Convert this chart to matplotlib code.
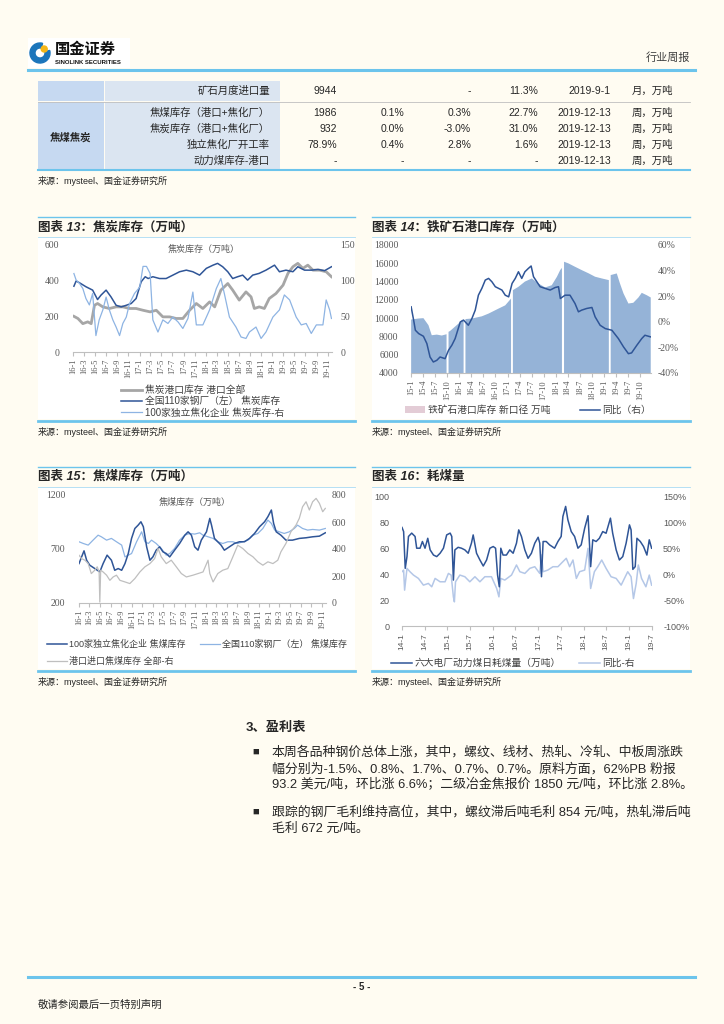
import numpy as np
import pandas as pd
import matplotlib
matplotlib.use('Agg')
import matplotlib.pyplot as plt
from matplotlib.lines import Line2D
from matplotlib.patches import Rectangle, Patch, Wedge, Circle
from matplotlib.ticker import FuncFormatter

SANS = ['Liberation Sans', 'Noto Sans CJK SC']
SERIF = ['Liberation Serif', 'Noto Sans CJK SC']
plt.rcParams['font.family'] = SANS
plt.rcParams['axes.unicode_minus'] = False

# ---------------- table ----------------
table_rows = [
    ['矿石月度进口量', '9944', '', '-', '11.3%', '2019-9-1', '月，万吨'],
    ['焦煤库存（港口+焦化厂）', '1986', '0.1%', '0.3%', '22.7%', '2019-12-13', '周，万吨'],
    ['焦炭库存（港口+焦化厂）', '932', '0.0%', '-3.0%', '31.0%', '2019-12-13', '周，万吨'],
    ['独立焦化厂开工率', '78.9%', '0.4%', '2.8%', '1.6%', '2019-12-13', '周，万吨'],
    ['动力煤库存-港口', '-', '-', '-', '-', '2019-12-13', '周，万吨'],
]
table_group = '焦煤焦炭'

# ---------------- 图表13 焦炭库存 ----------------
ticks13 = ['16-1', '16-3', '16-5', '16-7', '16-9', '16-11', '17-1', '17-3', '17-5', '17-7', '17-9', '17-11',
           '18-1', '18-3', '18-5', '18-7', '18-9', '18-11', '19-1', '19-3', '19-5', '19-7', '19-9', '19-11']
mill_coke_dates = ['2016-01-06', '2016-01-18', '2016-02-06', '2016-03-12', '2016-04-18', '2016-05-15', '2016-06-03',
                   '2016-07-01', '2016-07-28', '2016-08-25', '2016-09-22', '2016-10-20', '2016-11-16', '2016-12-13',
                   '2017-01-10', '2017-02-01', '2017-02-17', '2017-03-15', '2017-04-21', '2017-05-27', '2017-07-03',
                   '2017-08-09', '2017-09-15', '2017-10-21', '2017-11-27', '2018-01-03', '2018-02-09', '2018-03-06',
                   '2018-04-03', '2018-05-01', '2018-05-28', '2018-06-24', '2018-07-22', '2018-08-18', '2018-09-15',
                   '2018-10-21', '2018-11-27', '2019-01-13', '2019-02-09', '2019-03-17', '2019-04-24', '2019-05-21',
                   '2019-06-27', '2019-08-03', '2019-09-09', '2019-10-15', '2019-11-22']
mill_coke = [369, 398, 388, 366, 347, 294, 319, 347, 309, 262, 253, 262, 272, 300, 394, 422, 412, 422, 412, 412,
             431, 450, 459, 450, 431, 469, 487, 497, 478, 450, 412, 422, 431, 403, 431, 441, 459, 487, 450, 459,
             450, 478, 459, 459, 463, 456, 478]
port_coke_dates = ['2016-01-06', '2016-01-28', '2016-02-24', '2016-03-22', '2016-04-10', '2016-04-28', '2016-05-15',
                   '2016-06-13', '2016-07-19', '2016-08-25', '2016-10-01', '2016-11-07', '2016-12-13', '2017-01-20',
                   '2017-02-28', '2017-04-03', '2017-05-09', '2017-06-15', '2017-07-21', '2017-08-27', '2017-10-03',
                   '2017-11-09', '2017-12-15', '2018-01-21', '2018-02-18', '2018-03-24', '2018-05-01', '2018-05-28',
                   '2018-07-03', '2018-08-09', '2018-09-06', '2018-09-24', '2018-10-21', '2018-11-18', '2018-12-15',
                   '2019-01-21', '2019-03-01', '2019-03-28', '2019-04-24', '2019-05-21', '2019-06-18', '2019-07-15',
                   '2019-08-12', '2019-09-18', '2019-10-24', '2019-11-22']
port_coke = [200, 188, 159, 169, 159, 262, 272, 253, 244, 253, 253, 244, 244, 234, 225, 234, 197, 197, 188, 188,
             234, 272, 244, 281, 253, 347, 384, 347, 291, 337, 309, 244, 253, 244, 300, 328, 375, 441, 478, 497,
             469, 487, 459, 459, 450, 422]
plant_coke_dates = ['2016-01-06', '2016-01-18', '2016-02-06', '2016-02-24', '2016-03-12', '2016-03-31', '2016-04-18',
                    '2016-05-06', '2016-05-24', '2016-06-13', '2016-07-01', '2016-07-19', '2016-08-07', '2016-08-25',
                    '2016-09-13', '2016-10-01', '2016-10-20', '2016-11-07', '2016-12-04', '2017-01-02', '2017-01-20',
                    '2017-02-08', '2017-02-28', '2017-03-15', '2017-04-12', '2017-05-09', '2017-06-06', '2017-07-03',
                    '2017-08-01', '2017-08-27', '2017-09-24', '2017-10-21', '2017-11-09', '2017-12-15', '2018-01-21',
                    '2018-02-27', '2018-03-24', '2018-04-12', '2018-05-10', '2018-06-15', '2018-07-13', '2018-08-09',
                    '2018-08-28', '2018-10-03', '2018-10-31', '2018-11-27', '2019-01-04', '2019-02-09', '2019-03-08',
                    '2019-04-06', '2019-05-12', '2019-06-09', '2019-07-06', '2019-08-03', '2019-08-31', '2019-10-06',
                    '2019-10-24', '2019-11-12', '2019-11-22']
plant_coke = [110, 101, 96, 89, 75, 66, 82, 23, 45, 59, 77, 59, 45, 35, 23, 40, 49, 68, 82, 91, 120, 120, 110,
              45, 28, 45, 40, 49, 42, 33, 47, 84, 38, 38, 59, 89, 103, 82, 49, 35, 21, 19, 28, 35, 19, 28, 49,
              59, 80, 73, 49, 38, 40, 26, 38, 38, 73, 59, 47]

# ---------------- 图表14 铁矿石港口库存 ----------------
ticks14 = ['15-1', '15-4', '15-7', '15-10', '16-1', '16-4', '16-7', '16-10', '17-1', '17-4', '17-7', '17-10',
           '18-1', '18-4', '18-7', '18-10', '19-1', '19-4', '19-7', '19-10']
ore_dates = ['2015-01-02', '2015-02-27', '2015-04-05', '2015-05-13', '2015-06-07', '2015-07-15', '2015-08-22',
             '2015-09-27', '2015-10-04', '2015-10-12', '2015-10-24', '2015-12-26', '2016-01-20', '2016-02-03',
             '2016-02-10', '2016-02-17', '2016-04-06', '2016-06-20', '2016-08-10', '2016-10-25', '2016-12-14',
             '2017-01-21', '2017-01-27', '2017-02-03', '2017-02-10', '2017-03-24', '2017-05-12', '2017-07-03',
             '2017-08-21', '2017-10-12', '2017-12-01', '2018-01-09', '2018-02-03', '2018-02-16', '2018-02-24',
             '2018-03-04', '2018-04-06', '2018-05-26', '2018-07-15', '2018-09-06', '2018-10-25', '2018-12-15',
             '2019-02-06', '2019-02-13', '2019-02-20', '2019-04-07', '2019-05-01', '2019-05-28', '2019-07-04',
             '2019-08-10', '2019-09-18', '2019-10-13', '2019-11-21', '2019-12-20']
ore_stock = [9850, 9960, 10000, 9230, 8130, 8200, 8100, 8240, np.nan, 8500, 8600, 9400, 9800, 9850, np.nan, 9900,
             9960, 10200, 10500, 11050, 11400, 12040, 12150, np.nan, 13060, 13430, 14000, 14340, 13800, 13360,
             13600, 14520, 15260, 15500, np.nan, 16170, 15990, 15620, 15260, 14900, 14530, 14340, 14160, np.nan,
             14710, 14890, 13800, 12700, 11600, 11680, 12260, 12770, 12500, 12260]
ore_yoy_dates = ['2015-01-02', '2015-01-21', '2015-02-03', '2015-02-28', '2015-04-05', '2015-05-01', '2015-05-25',
                 '2015-06-19', '2015-07-15', '2015-08-09', '2015-09-16', '2015-10-12', '2015-11-06', '2015-12-01',
                 '2016-01-09', '2016-02-03', '2016-03-10', '2016-04-06', '2016-05-01', '2016-05-25', '2016-06-20',
                 '2016-07-16', '2016-08-10', '2016-09-04', '2016-09-30', '2016-10-25', '2016-11-19', '2016-12-14',
                 '2017-01-09', '2017-02-04', '2017-02-28', '2017-03-24', '2017-04-18', '2017-05-12', '2017-06-07',
                 '2017-06-28', '2017-07-16', '2017-08-10', '2017-09-04', '2017-10-12', '2017-11-19', '2017-12-27',
                 '2018-01-21', '2018-02-04', '2018-03-12', '2018-04-18', '2018-05-26', '2018-06-21', '2018-07-15',
                 '2018-08-22', '2018-10-01', '2018-10-25', '2018-12-02', '2019-01-10', '2019-03-01', '2019-04-19',
                 '2019-05-28', '2019-07-04', '2019-07-28', '2019-09-06', '2019-10-13', '2019-11-06', '2019-12-03',
                 '2019-12-20']
ore_yoy = [11.7, 1.3, -6.6, -9.2, -11.3, -17.0, -27.5, -31.4, -30.1, -27.5, -28.8, -22.2, -18.3, -13.1,
           -0.1, 1.3, -2.7, 2.6, 9.1, 20.8, 26.1, 32.6, 33.9, 31.3, 27.4, 26.1, 24.8, 20.8,
           19.5, 30.0, 33.9, 39.1, 33.9, 39.1, 41.7, 43.6, 35.2, 31.3, 27.4, 26.1, 24.8, 26.8,
           27.4, 18.2, 20.8, 20.8, 14.3, 7.8, 9.1, 10.4, 11.2, 3.9, -2.7,
           -5.3, -6.6, -13.1, -19.6, -24.9, -24.3, -18.3, -13.1, -10.5, -11.3, -11.8]

# ---------------- 图表15 焦煤库存 ----------------
ticks15 = ticks13
plant_coal_dates = ['2016-01-01', '2016-01-16', '2016-01-30', '2016-02-14', '2016-03-03', '2016-04-01', '2016-04-30',
                    '2016-05-19', '2016-06-11', '2016-07-06', '2016-07-25', '2016-08-14', '2016-09-03', '2016-09-22',
                    '2016-10-11', '2016-10-30', '2016-11-18', '2016-12-07', '2016-12-23', '2017-01-06', '2017-01-25',
                    '2017-02-13', '2017-03-02', '2017-03-21', '2017-04-10', '2017-04-29', '2017-05-18', '2017-06-07',
                    '2017-07-05', '2017-08-03', '2017-09-02', '2017-09-21', '2017-10-10', '2017-10-29', '2017-11-17',
                    '2017-12-06', '2018-01-05', '2018-01-24', '2018-02-03', '2018-02-20', '2018-03-11', '2018-03-30',
                    '2018-04-18', '2018-05-17', '2018-06-15', '2018-07-14', '2018-08-12', '2018-09-10', '2018-10-09',
                    '2018-11-07', '2018-12-06', '2018-12-25', '2019-01-14', '2019-01-27', '2019-02-11', '2019-03-10',
                    '2019-04-08', '2019-05-16', '2019-06-24', '2019-08-02', '2019-09-09', '2019-10-18', '2019-11-21']
plant_coal = [565, 627, 683, 596, 550, 519, 488, 565, 643, 596, 503, 519, 503, 565, 658, 798, 890, 921, 952,
              906, 720, 596, 627, 689, 720, 674, 658, 627, 689, 751, 828, 859, 828, 720, 689, 782,
              859, 983, 921, 798, 767, 736, 689, 720, 751, 767, 767, 798, 844, 906, 952, 999,
              1061, 937, 859, 828, 782, 782, 798, 804, 813, 819, 850]
mill_coal_dates = ['2016-01-01', '2016-01-26', '2016-02-23', '2016-03-22', '2016-04-20', '2016-05-09', '2016-06-08',
                   '2016-07-06', '2016-08-04', '2016-09-03', '2016-09-22', '2016-10-11', '2016-10-30', '2016-11-28',
                   '2016-12-27', '2017-01-15', '2017-02-04', '2017-02-22', '2017-03-21', '2017-04-19', '2017-05-18',
                   '2017-06-07', '2017-07-05', '2017-08-03', '2017-09-02', '2017-09-30', '2017-10-29', '2017-11-27',
                   '2017-12-16', '2018-01-14', '2018-02-12', '2018-03-11', '2018-04-09', '2018-05-08', '2018-06-06',
                   '2018-07-04', '2018-08-02', '2018-09-01', '2018-09-30', '2018-10-28', '2018-11-26', '2018-12-25',
                   '2019-01-14', '2019-02-02', '2019-03-01', '2019-03-29', '2019-04-27', '2019-05-26', '2019-06-14',
                   '2019-07-13', '2019-08-11', '2019-09-09', '2019-10-18', '2019-11-21']
mill_coal = [767, 751, 736, 782, 828, 813, 782, 798, 767, 736, 627, 643, 658, 767, 859, 767, 751, 782, 751, 705,
             643, 658, 705, 782, 828, 844, 838, 850, 828, 813, 798, 767, 751, 767, 767, 751, 767, 782, 828,
             844, 890, 968, 937, 875, 859, 844, 859, 890, 921, 890, 875, 881, 875, 890]
port_coal_dates = ['2016-01-01', '2016-01-16', '2016-02-04', '2016-02-23', '2016-03-12', '2016-04-01', '2016-04-15',
                   '2016-04-26', '2016-04-30', '2016-05-05', '2016-05-19', '2016-06-08', '2016-06-27', '2016-07-16',
                   '2016-08-04', '2016-08-24', '2016-09-22', '2016-10-20', '2016-11-18', '2016-12-17', '2017-01-15',
                   '2017-02-13', '2017-03-12', '2017-04-01', '2017-04-19', '2017-05-18', '2017-06-16', '2017-07-15',
                   '2017-08-13', '2017-09-11', '2017-10-19', '2017-11-17', '2017-12-16', '2018-01-14', '2018-01-24',
                   '2018-02-12', '2018-03-11', '2018-04-09', '2018-05-08', '2018-06-06', '2018-07-04', '2018-08-02',
                   '2018-09-01', '2018-09-30', '2018-10-28', '2018-11-26', '2018-12-25', '2019-01-23', '2019-02-20',
                   '2019-03-10', '2019-04-08', '2019-05-07', '2019-06-05', '2019-06-24', '2019-07-13', '2019-08-02',
                   '2019-08-21', '2019-09-09', '2019-09-29', '2019-10-18', '2019-11-06', '2019-11-21']
port_coal = [354, 329, 317, 292, 218, 243, 268, 230, 7, 243, 230, 206, 168, 193, 206, 168, 156, 144, 181, 230,
             268, 292, 329, 404, 342, 292, 317, 268, 218, 193, 206, 218, 230, 317, 218, 156, 218, 243, 255,
             342, 428, 404, 367, 342, 305, 280, 305, 292, 317, 379, 441, 528, 577, 627, 713, 750, 689, 750,
             775, 738, 676, 701]

# ---------------- 图表16 耗煤量 ----------------
ticks16 = ['14-1', '14-7', '15-1', '15-7', '16-1', '16-7', '17-1', '17-7', '18-1', '18-7', '19-1', '19-7']
burn_dates = ['2014-01-01', '2014-01-14', '2014-01-27', '2014-02-10', '2014-02-22', '2014-03-20', '2014-04-16',
              '2014-04-29', '2014-05-26', '2014-06-14', '2014-07-05', '2014-07-27', '2014-08-15', '2014-09-11',
              '2014-10-07', '2014-11-03', '2014-11-30', '2014-12-26', '2015-01-23', '2015-02-05', '2015-02-18',
              '2015-03-02', '2015-03-28', '2015-04-24', '2015-05-21', '2015-06-17', '2015-07-13', '2015-07-27',
              '2015-08-23', '2015-09-19', '2015-10-16', '2015-11-12', '2015-12-08', '2016-01-04', '2016-01-23',
              '2016-02-08', '2016-02-22', '2016-03-05', '2016-03-23', '2016-04-19', '2016-05-16', '2016-06-12',
              '2016-07-09', '2016-07-27', '2016-08-18', '2016-09-14', '2016-10-10', '2016-11-06', '2016-12-03',
              '2016-12-30', '2017-01-12', '2017-01-26', '2017-02-08', '2017-03-05', '2017-04-01', '2017-05-11',
              '2017-06-07', '2017-07-03', '2017-07-17', '2017-08-08', '2017-08-26', '2017-09-22', '2017-10-19',
              '2017-11-15', '2017-12-11', '2018-01-08', '2018-02-04', '2018-02-25', '2018-03-14', '2018-04-10',
              '2018-05-06', '2018-06-02', '2018-06-29', '2018-08-03', '2018-08-21', '2018-09-18', '2018-10-14',
              '2018-11-10', '2018-12-07', '2019-01-03', '2019-01-16', '2019-01-30', '2019-02-18', '2019-03-04',
              '2019-03-31', '2019-04-26', '2019-05-23', '2019-06-11', '2019-06-30']
burn = [76.4, 73.2, 44.7, 53.8, 69.4, 72.0, 69.4, 60.3, 60.3, 65.5, 60.3, 68.0, 59.0, 55.0, 53.8, 56.4, 60.3,
        70.6, 72.0, 69.4, 35.6, 59.0, 61.0, 60.3, 59.0, 56.4, 64.2, 70.6, 56.4, 51.2, 46.5, 51.2, 60.3,
        61.6, 60.3, 39.5, 30.4, 60.3, 55.0, 55.0, 59.0, 56.4, 64.2, 74.5, 69.4, 59.0, 52.5, 56.4, 64.2, 68.8,
        64.2, 38.2, 65.5, 65.5, 62.9, 60.3, 65.5, 69.4, 84.9, 92.7, 82.3, 73.2, 69.4, 60.3, 62.9,
        75.8, 85.5, 46.0, 66.8, 65.5, 68.0, 73.2, 71.9, 83.6, 71.9, 59.0, 51.2, 53.8, 64.2,
        78.4, 74.5, 43.9, 46.0, 68.0, 65.5, 61.6, 55.0, 66.8, 60.3]
burn_yoy_dates = ['2014-01-01', '2014-01-14', '2014-01-22', '2014-02-10', '2014-03-06', '2014-04-03', '2014-05-13',
                  '2014-06-22', '2014-08-01', '2014-08-28', '2014-09-24', '2014-11-03', '2014-12-13', '2015-01-09',
                  '2015-01-31', '2015-02-18', '2015-02-26', '2015-03-07', '2015-04-11', '2015-05-21', '2015-06-30',
                  '2015-08-10', '2015-09-19', '2015-10-29', '2015-12-21', '2016-02-01', '2016-02-19', '2016-03-05',
                  '2016-04-06', '2016-05-30', '2016-07-09', '2016-08-05', '2016-09-14', '2016-10-24', '2016-12-03',
                  '2017-01-12', '2017-01-26', '2017-02-08', '2017-03-18', '2017-04-28', '2017-06-07', '2017-07-17',
                  '2017-08-13', '2017-09-09', '2017-10-06', '2017-11-02', '2017-11-28', '2018-01-08', '2018-02-04',
                  '2018-02-25', '2018-03-27', '2018-04-23', '2018-05-25', '2018-06-29', '2018-08-08', '2018-09-18',
                  '2018-10-28', '2018-12-20', '2019-01-16', '2019-02-04', '2019-02-26', '2019-03-15', '2019-04-10',
                  '2019-05-15', '2019-06-11', '2019-06-30']
burn_yoy = [5.2, 8.4, -30.5, 11.7, 5.2, -1.3, -7.8, -20.8, -17.5, -24.0, -7.8, -14.3, -14.3, 1.9, -1.3, -43.5,
            -53.2, -14.3, -1.3, -4.5, -14.3, -4.5, -14.3, -4.5, -4.5, -27.3, -43.5, -7.8, -11.0, -1.3, 18.2, 5.2,
            1.9, 11.7, 14.9, 1.9, 37.7, 5.2, 8.4, 14.9, 14.9, 24.7, 31.2, 14.9, 27.9, -7.8, 5.2, 8.4, 50.6,
            -27.3, 5.2, 14.9, 27.9, 11.7, -4.5, -7.8, -20.8, 5.2, -4.5, -46.8, -17.5, 18.2, -7.8, -24.0, -1.3, -20.8]

body_lines = [
    '本周各品种钢价总体上涨，其中，螺纹、线材、热轧、冷轧、中板周涨跌',
    '幅分别为-1.5%、0.8%、1.7%、0.7%、0.7%。原料方面，62%PB 粉报',
    '93.2 美元/吨，环比涨 6.6%；二级冶金焦报价 1850 元/吨，环比涨 2.8%。',
    '跟踪的钢厂毛利维持高位，其中，螺纹滞后吨毛利 854 元/吨，热轧滞后吨',
    '毛利 672 元/吨。',
]

W, H = 724, 1024
BG = '#FFFCF2'
SKY = '#6CC4EC'
DARK = '#2F5597'
LIGHT = '#8EB4E3'
PALE = '#B4C7E7'
GREY = '#A6A6A6'
TXT = '#262626'
TICK = '#595959'

fig = plt.figure(figsize=(W / 100, H / 100), dpi=100, facecolor=BG)


def fx(x):
    return x / W


def fy(y):
    return 1 - y / H


def box(l, t, r, b):
    return [l / W, 1 - b / H, (r - l) / W, (b - t) / H]


def hline(y, x0, x1, color=SKY, lw=1.0):
    fig.add_artist(Line2D([fx(x0), fx(x1)], [fy(y), fy(y)], color=color, lw=lw))


def rect(l, t, r, b, color):
    fig.add_artist(Rectangle((fx(l), fy(b)), (r - l) / W, (b - t) / H, facecolor=color,
                             edgecolor='none', zorder=-1))


def text(x, y, s, **kw):
    kw.setdefault('va', 'center')
    kw.setdefault('color', TXT)
    fig.text(fx(x), fy(y), s, **kw)


def to_dates(ticks):
    return pd.to_datetime(['20%s-01' % t for t in ticks], format='%Y-%m-%d')


def setup(ax, ax2, ticks, fam, fs, yfs):
    for a in (ax, ax2):
        a.set_facecolor('none')
        for s in ('left', 'right', 'top'):
            a.spines[s].set_visible(False)
    ax2.spines['bottom'].set_visible(False)
    ax.spines['bottom'].set_color('#BFBFBF')
    ax.spines['bottom'].set_linewidth(0.8)
    ax.set_xticks(to_dates(ticks))
    ax.set_xticklabels(ticks, rotation=90, family=fam, fontsize=fs, color=TICK)
    ax.tick_params(axis='x', direction='out', length=3, color='#BFBFBF', pad=2)
    ax.tick_params(axis='y', length=0, labelsize=yfs, labelcolor=TICK)
    ax2.tick_params(axis='y', length=0, labelsize=yfs, labelcolor=TICK)
    for lab in ax.get_yticklabels() + ax2.get_yticklabels():
        lab.set_family(fam)


def legend(handles, x, y, ncol=1, size=7, **kw):
    opts = dict(loc='upper left', bbox_to_anchor=(fx(x), fy(y)), ncol=ncol, frameon=False,
                handlelength=2.2, handletextpad=0.25, borderpad=0, borderaxespad=0,
                labelcolor='#404040', prop={'family': SANS, 'size': size})
    opts.update(kw)
    fig.legend(handles=handles, **opts)


def panel(x0, x1, ytop, ybot, title):
    rect(x0, ytop + 20, x1, ybot - 2, 'white')
    hline(ytop, x0, x1, SKY, 1.0)
    hline(ytop + 20, x0, x1, '#A9DAF2', 0.6)
    hline(ybot, x0, x1, SKY, 2.0)
    text(x0, ytop + 10, title, fontsize=9, fontweight='bold', style='italic')
    text(x0, ybot + 11, '来源：mysteel、国金证券研究所', fontsize=6.5)


# ---------------- header ----------------
rect(28, 38, 130, 68, 'white')
axl = fig.add_axes(box(29, 41, 51, 65))
axl.set_xlim(-1.1, 1.1)
axl.set_ylim(-1.1, 1.1)
axl.set_aspect('equal')
axl.axis('off')
axl.add_patch(Wedge((0, 0), 1.0, 75, 15, width=0.5, color='#1B75BB'))
axl.add_patch(Circle((0.42, 0.4), 0.3, color='#F5B617'))
text(55, 50, '国金证券', fontsize=11, fontweight='bold', color='#111111')
text(55, 62, 'SINOLINK SECURITIES', fontsize=4.3, fontweight='bold', color='#111111')
text(690, 58, '行业周报', fontsize=8, ha='right', color='#404040')
hline(70, 28, 695, SKY, 2.2)

# ---------------- table ----------------
rect(38, 81, 104, 101, '#C6D9F1')
rect(105, 81, 280, 101, '#DBE5F1')
rect(38, 102, 104, 169, '#C6D9F1')
rect(105, 102, 280, 169, '#DBE5F1')
hline(101.5, 38, 690, '#BFBFBF', 0.6)
hline(169.5, 38, 690, SKY, 1.5)
row_y = [91, 113, 129, 145, 161]
col_x = [337, 404, 471, 538, 611]
for yy, row in zip(row_y, table_rows):
    text(270, yy, row[0], fontsize=7.5, ha='right')
    for xx, v in zip(col_x, row[1:6]):
        text(xx, yy, v, fontsize=7.5, ha='right')
    text(632, yy, row[6], fontsize=7.5)
text(71, 137, table_group, fontsize=7.5, fontweight='bold', ha='center')
text(38, 181, '来源：mysteel、国金证券研究所', fontsize=6.5)

# ---------------- 图表13 ----------------
panel(38, 355, 217, 421, '图表 13：焦炭库存（万吨）')
ax = fig.add_axes(box(73, 245, 332, 352))
ax2 = ax.twinx()
ax.plot(pd.to_datetime(port_coke_dates), port_coke, color=GREY, lw=2)
ax.plot(pd.to_datetime(mill_coke_dates), mill_coke, color=DARK, lw=1.1)
ax2.plot(pd.to_datetime(plant_coke_dates), plant_coke, color=LIGHT, lw=0.9)
ax.set_ylim(0, 600)
ax.set_yticks(range(0, 601, 200))
ax2.set_ylim(0, 150)
ax2.set_yticks(range(0, 151, 50))
ax.set_xlim(pd.Timestamp('2016-01-01'), pd.Timestamp('2019-11-25'))
setup(ax, ax2, ticks13, SERIF, 6, 7)
ax.tick_params(axis='y', pad=10)
ax2.tick_params(axis='y', pad=6)
text(204, 249, '焦炭库存（万吨）', fontsize=6.5, ha='center', color=TICK)
legend([Line2D([], [], color=GREY, lw=2, label='焦炭港口库存 港口全部'),
        Line2D([], [], color=DARK, lw=1.1, label='全国110家钢厂（左） 焦炭库存'),
        Line2D([], [], color=LIGHT, lw=0.9, label='100家独立焦化企业 焦炭库存-右')],
       121, 385, labelspacing=0.13)

# ---------------- 图表14 ----------------
panel(372, 690, 217, 421, '图表 14：铁矿石港口库存（万吨）')
ax = fig.add_axes(box(411, 245, 651, 373))
ax2 = ax.twinx()
ax.fill_between(pd.to_datetime(ore_dates), ore_stock, 0, color='#95B3D7', lw=0)
ax2.plot(pd.to_datetime(ore_yoy_dates), ore_yoy, color=DARK, lw=1.1)
ax.set_ylim(4000, 18000)
ax.set_yticks(range(4000, 18001, 2000))
ax2.set_ylim(-40, 60)
ax2.set_yticks(range(-40, 61, 20))
ax2.yaxis.set_major_formatter(FuncFormatter(lambda v, p: '%d%%' % v))
ax.set_xlim(pd.Timestamp('2015-01-01'), pd.Timestamp('2019-12-22'))
setup(ax, ax2, ticks14, SERIF, 6, 7)
ax.tick_params(axis='y', pad=9)
ax2.tick_params(axis='y', pad=5)
legend([Patch(facecolor='#E3CCD6', label='铁矿石港口库存 新口径 万吨'),
        Line2D([], [], color=DARK, lw=1.1, label='同比（右）')],
       405, 405, ncol=2, handlelength=2.1, columnspacing=3.0)

# ---------------- 图表15 ----------------
panel(38, 355, 467, 671, '图表 15：焦煤库存（万吨）')
ax = fig.add_axes(box(79, 495, 326, 603))
ax2 = ax.twinx()
ax.plot(pd.to_datetime(plant_coal_dates), plant_coal, color=DARK, lw=1.1, zorder=3)
ax.plot(pd.to_datetime(mill_coal_dates), mill_coal, color=LIGHT, lw=0.9)
ax2.plot(pd.to_datetime(port_coal_dates), port_coal, color='#BFBFBF', lw=0.9)
ax.set_ylim(200, 1200)
ax.set_yticks([200, 700, 1200])
ax2.set_ylim(0, 800)
ax2.set_yticks(range(0, 801, 200))
ax.set_xlim(pd.Timestamp('2016-01-01'), pd.Timestamp('2019-11-25'))
setup(ax, ax2, ticks15, SERIF, 6, 7)
ax.tick_params(axis='y', pad=10)
ax2.tick_params(axis='y', pad=4)
text(195, 502, '焦煤库存（万吨）', fontsize=6.5, ha='center', color=TICK)
legend([Line2D([], [], color=DARK, lw=1.1, label='100家独立焦化企业 焦煤库存'),
        Line2D([], [], color='#BFBFBF', lw=0.9, label='港口进口焦煤库存 全部-右'),
        Line2D([], [], color=LIGHT, lw=0.9, label='全国110家钢厂（左） 焦煤库存')],
       47, 640, ncol=2, size=6.5, columnspacing=1.6, labelspacing=0.85)

# ---------------- 图表16 ----------------
panel(372, 690, 467, 671, '图表 16：耗煤量')
ax = fig.add_axes(box(402, 497, 652, 626))
ax2 = ax.twinx()
ax2.plot(pd.to_datetime(burn_yoy_dates), burn_yoy, color=PALE, lw=1.1)
ax.plot(pd.to_datetime(burn_dates), burn, color=DARK, lw=1.1)
ax.set_zorder(ax2.get_zorder() + 1)
ax.set_ylim(0, 100)
ax.set_yticks(range(0, 101, 20))
ax2.set_ylim(-100, 150)
ax2.set_yticks(range(-100, 151, 50))
ax2.yaxis.set_major_formatter(FuncFormatter(lambda v, p: '%d%%' % v))
ax.set_xlim(pd.Timestamp('2014-01-01'), pd.Timestamp('2019-07-03'))
setup(ax, ax2, ticks16, SANS, 6, 6.5)
ax.tick_params(axis='y', pad=9)
ax2.tick_params(axis='y', pad=8)
legend([Line2D([], [], color=DARK, lw=1.1, label='六大电厂动力煤日耗煤量（万吨）'),
        Line2D([], [], color=PALE, lw=1.1, label='同比-右')],
       391, 658, ncol=2, columnspacing=1.8)

# ---------------- 正文 ----------------
text(246, 728, '3、盈利表', fontsize=9.5, fontweight='bold')
for yy, s in zip([752, 769, 785, 812, 829], body_lines):
    text(272, yy, s, fontsize=9.3)
text(252, 752, '■', fontsize=8)
text(252, 812, '■', fontsize=8)

# ---------------- footer ----------------
hline(977, 28, 695, SKY, 2.2)
text(362, 987, '- 5 -', fontsize=7, fontweight='bold', ha='center')
text(38, 1005, '敬请参阅最后一页特别声明', fontsize=7.5)

fig.savefig('out.png', dpi=100, facecolor=BG)
